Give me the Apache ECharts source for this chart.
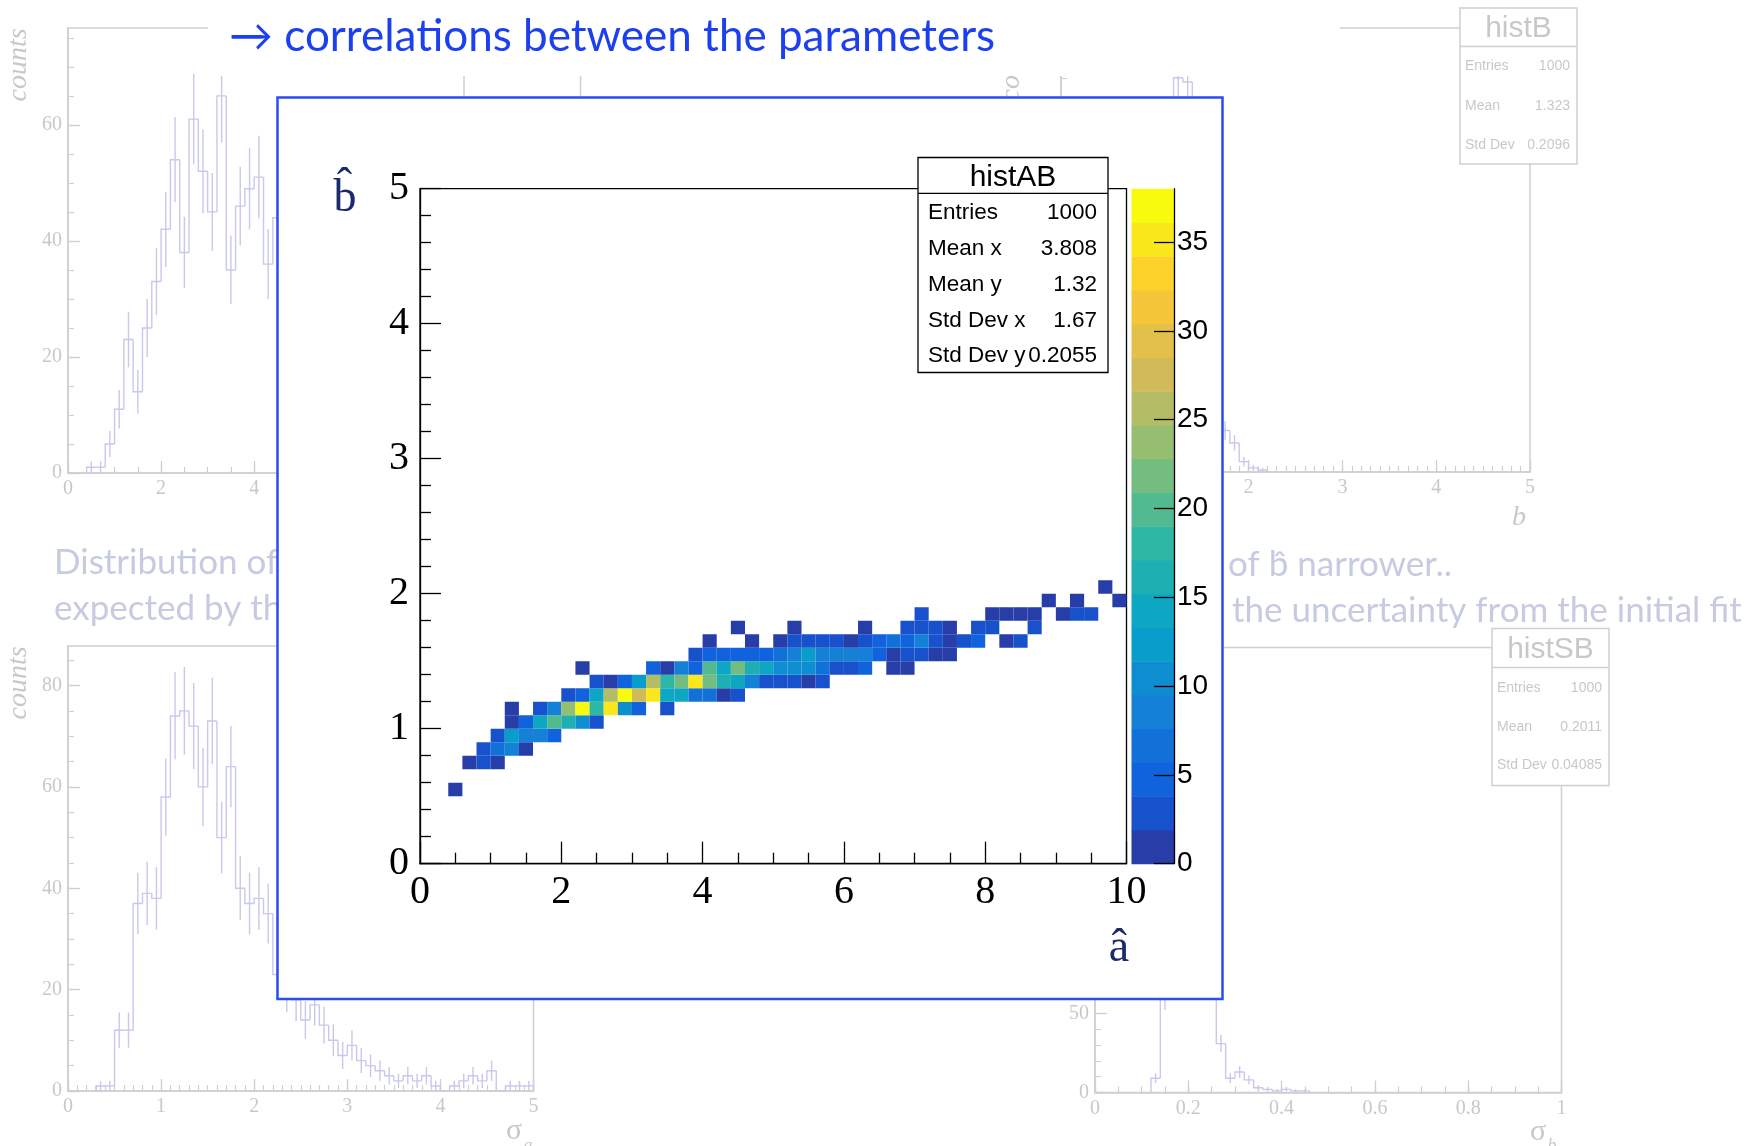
<!DOCTYPE html>
<html>
<head>
<meta charset="utf-8">
<title>histAB</title>
<script src="https://cdn.jsdelivr.net/npm/echarts@6.0.0/dist/echarts.min.js"></script>
<style>
html,body{margin:0;padding:0;background:#ffffff;}
#chart{width:1754px;height:1146px;}
</style>
</head>
<body>
<div id="chart"></div>
<script>
// ================= DATA =================
// main 2D histogram histAB : b-hat bin centres (rows) and, per row, a-hat bin centres + counts
const bHatRows = [0.55, 0.75, 0.85, 0.95, 1.05, 1.15, 1.25, 1.35, 1.45, 1.55, 1.65, 1.75, 1.85, 1.95, 2.05];
const aHatByRow = [
  [0.5],
  [0.7, 0.9, 1.1],
  [0.9, 1.1, 1.3, 1.5],
  [1.1, 1.3, 1.5, 1.7, 1.9],
  [1.3, 1.5, 1.7, 1.9, 2.1, 2.3, 2.5],
  [1.3, 1.7, 1.9, 2.1, 2.3, 2.5, 2.7, 2.9, 3.1, 3.5],
  [2.1, 2.3, 2.5, 2.7, 2.9, 3.1, 3.3, 3.5, 3.7, 3.9, 4.1, 4.3, 4.5],
  [2.5, 2.7, 2.9, 3.1, 3.3, 3.5, 3.7, 3.9, 4.1, 4.3, 4.5, 4.7, 4.9, 5.1, 5.3, 5.5, 5.7],
  [2.3, 3.3, 3.5, 3.7, 3.9, 4.1, 4.3, 4.5, 4.7, 4.9, 5.1, 5.3, 5.5, 5.7, 5.9, 6.1, 6.3, 6.7, 6.9],
  [3.9, 4.1, 4.3, 4.5, 4.7, 4.9, 5.1, 5.3, 5.5, 5.7, 5.9, 6.1, 6.3, 6.5, 6.7, 6.9, 7.1, 7.3, 7.5],
  [4.1, 4.7, 5.1, 5.3, 5.5, 5.7, 5.9, 6.1, 6.3, 6.5, 6.7, 6.9, 7.1, 7.3, 7.5, 7.7, 7.9, 8.3, 8.5],
  [4.5, 5.3, 6.3, 6.9, 7.1, 7.3, 7.5, 7.9, 8.1, 8.7],
  [7.1, 8.1, 8.3, 8.5, 8.7, 9.1, 9.3, 9.5],
  [8.9, 9.3, 9.9],
  [9.7]
];
const countsByRow = [
  [1],
  [1, 3, 1],
  [3, 6, 8, 1],
  [3, 12, 8, 8, 4],
  [1, 4, 14, 20, 16, 10, 3],
  [1, 3, 8, 24, 38, 18, 35, 10, 4, 3],
  [3, 4, 14, 26, 37, 28, 35, 14, 14, 7, 7, 1, 3],
  [3, 1, 4, 12, 26, 18, 22, 35, 22, 16, 14, 8, 3, 3, 3, 1, 3],
  [1, 4, 1, 8, 5, 20, 14, 22, 16, 14, 10, 10, 10, 6, 3, 3, 4, 1, 1],
  [3, 4, 4, 4, 4, 4, 6, 8, 12, 8, 8, 8, 8, 4, 1, 3, 3, 1, 1],
  [1, 1, 1, 3, 3, 3, 3, 1, 3, 4, 6, 4, 8, 3, 1, 3, 4, 1, 3],
  [1, 1, 1, 3, 3, 3, 1, 3, 3, 3],
  [3, 1, 1, 1, 1, 1, 3, 3],
  [1, 1, 1],
  [1]
];
const zTicks = [0, 5, 10, 15, 20, 25, 30, 35];
const statsAB = [['Entries', '1000'], ['Mean x', '3.808'], ['Mean y', '1.32'], ['Std Dev x', '1.67'], ['Std Dev y', '0.2055']];

// faded background histograms
const histA_a = [0.5, 0.7, 0.9, 1.1, 1.3, 1.5, 1.7, 1.9, 2.1, 2.3, 2.5, 2.7, 2.9, 3.1, 3.3, 3.5, 3.7, 3.9, 4.1, 4.3, 4.5];
const histA_n = [1, 1, 5, 11, 23, 14, 25, 33, 42, 54, 38, 61, 52, 45, 65, 35, 46, 49, 51, 36, 44];
const histSA_s = [0.35, 0.45, 0.55, 0.65, 0.75, 0.85, 0.95, 1.05, 1.15, 1.25, 1.35, 1.45, 1.55, 1.65, 1.75, 1.85, 1.95, 2.05, 2.15, 2.25,
  2.35, 2.45, 2.55, 2.65, 2.75, 2.85, 2.95, 3.05, 3.15, 3.25, 3.35, 3.45, 3.55, 3.65, 3.75, 3.85, 3.95, 4.05, 4.15, 4.25, 4.35, 4.45, 4.55, 4.65, 4.75, 4.85, 4.95];
const histSA_n = [1, 1, 12, 12, 37, 39, 38, 58, 74, 75, 72, 60, 73, 50, 64, 40, 37, 38, 35, 23,
  20, 18, 14, 17, 13, 10, 7, 9, 6, 5, 4, 3, 2, 3, 2, 3, 1, 0, 1, 2, 3, 2, 4, 0, 1, 1, 1];
const histB_b = [0.75, 0.85, 0.95, 1.05, 1.15, 1.25, 1.35, 1.45, 1.55, 1.65, 1.75, 1.85, 1.95, 2.05, 2.15];
const histB_n = [5, 15, 40, 90, 150, 190, 188, 140, 90, 45, 20, 14, 5, 2, 1];
const histSB_s = [0.13, 0.15, 0.17, 0.19, 0.21, 0.23, 0.25, 0.27, 0.29, 0.31, 0.33, 0.35, 0.37, 0.39, 0.41, 0.43, 0.45];
const histSB_n = [9, 60, 140, 251, 230, 150, 75, 31, 9, 13, 8, 3, 2, 1, 2, 1, 1];

// ================= STYLE =================
const SERIF = "'Liberation Serif', 'DejaVu Serif', serif";
const SANS = "'Liberation Sans', Arial, sans-serif";
const SLIDE = "Lato, 'Open Sans', 'DejaVu Sans', sans-serif";
const LAV = '#c8c8ec';
const FRAME = '#cfcfcf';
const GTXT = '#c8c8c8';
const STXT = '#c6cbe2';

// ROOT kBird palette
const birdStops = [0.0, 0.125, 0.25, 0.375, 0.5, 0.625, 0.75, 0.875, 1.0];
const birdR = [0.2082, 0.0592, 0.0780, 0.0232, 0.1802, 0.5301, 0.8186, 0.9956, 0.9764];
const birdG = [0.1664, 0.3599, 0.5041, 0.6419, 0.7178, 0.7492, 0.7328, 0.7862, 0.9832];
const birdB = [0.5293, 0.8684, 0.8385, 0.7914, 0.6425, 0.4662, 0.3499, 0.1968, 0.0539];
function bird(t) {
  let i = 0;
  while (i < birdStops.length - 2 && t > birdStops[i + 1]) i++;
  const f = (t - birdStops[i]) / (birdStops[i + 1] - birdStops[i]);
  const c = (arr) => Math.round(255 * (arr[i] + (arr[i + 1] - arr[i]) * f));
  return 'rgb(' + c(birdR) + ',' + c(birdG) + ',' + c(birdB) + ')';
}
const Z_MAX = 38, N_CONT = 20;
function bandColor(k) { return bird(Math.floor((k + 0.99) * 255 / N_CONT) / 254); }
function bandOf(n) { return Math.min(N_CONT - 1, Math.floor(0.01 + n * N_CONT / Z_MAX)); }

// flatten histAB
const cellData = [];
bHatRows.forEach((b, r) => aHatByRow[r].forEach((a, j) => cellData.push([a, b, countsByRow[r][j]])));
const BIN_A = 0.2, BIN_B = 0.1;

const bandData = [];
for (let k = 0; k < N_CONT; k++) bandData.push([k * Z_MAX / N_CONT, (k + 1) * Z_MAX / N_CONT, k]);

// ================= HELPERS =================
function steps(a, b, s) { const out = []; for (let v = a; v <= b + 1e-9; v += s) out.push(Math.round(v * 1000) / 1000); return out; }

function bgAxes(grid, min, max, majors, minors, pos) {
  const major = {
    gridIndex: grid, type: 'value', min: min, max: max, position: pos, z: 0,
    axisLine: { show: true, onZero: false, lineStyle: { color: FRAME, width: 1.5 } },
    axisTick: { show: true, inside: true, length: 12, customValues: majors, lineStyle: { color: FRAME, width: 1.3 } },
    axisLabel: { show: true, customValues: majors, color: GTXT, fontFamily: SERIF, fontSize: 20, margin: 6 },
    splitLine: { show: false }
  };
  const minor = {
    gridIndex: grid, type: 'value', min: min, max: max, position: pos, z: 0,
    axisLine: { show: false, onZero: false },
    axisTick: { show: true, inside: true, length: 6, customValues: minors, lineStyle: { color: FRAME, width: 1.2 } },
    axisLabel: { show: false },
    splitLine: { show: false }
  };
  return [major, minor];
}

function histSeries(xi, yi, centers, counts, binW) {
  return {
    type: 'custom', xAxisIndex: xi, yAxisIndex: yi, z: 1, silent: true, clip: true,
    data: centers.map((c, i) => [c, counts[i]]),
    renderItem: function (params, api) {
      const i = params.dataIndex;
      const xc = api.value(0), v = api.value(1);
      const xl = xc - binW / 2, xr = xc + binW / 2;
      const prev = (i > 0 && Math.abs(centers[i - 1] - (xc - binW)) < 1e-6) ? counts[i - 1] : 0;
      const st = { stroke: LAV, lineWidth: 1.4, fill: null };
      const children = [];
      const p0 = api.coord([xl, prev]), p1 = api.coord([xl, v]), p2 = api.coord([xr, v]);
      children.push({ type: 'polyline', shape: { points: [p0, p1, p2] }, style: st });
      if (i === centers.length - 1) {
        const p3 = api.coord([xr, 0]);
        children.push({ type: 'line', shape: { x1: p2[0], y1: p2[1], x2: p3[0], y2: p3[1] }, style: st });
      }
      if (v > 0) {
        const e = Math.sqrt(v);
        const t = api.coord([xc, v + e]), bo = api.coord([xc, Math.max(0, v - e)]);
        children.push({ type: 'line', shape: { x1: t[0], y1: t[1], x2: bo[0], y2: bo[1] }, style: st });
      }
      return { type: 'group', children: children };
    }
  };
}

function txt(x, y, text, font, fill, align, valign, z, extra) {
  const el = {
    type: 'text', x: x, y: y, z: z, silent: true,
    style: { text: text, font: font, fill: fill, textAlign: align, align: align, textVerticalAlign: valign, verticalAlign: valign }
  };
  if (extra) Object.assign(el, extra);
  return el;
}
function box(x, y, w, h, stroke, lw, z) {
  return { type: 'rect', z: z, silent: true, shape: { x: x, y: y, width: w, height: h }, style: { fill: '#ffffff', stroke: stroke, lineWidth: lw } };
}
function hline(x1, x2, y, stroke, lw, z) {
  return { type: 'line', z: z, silent: true, shape: { x1: x1, y1: y, x2: x2, y2: y }, style: { stroke: stroke, lineWidth: lw } };
}

// ================= AXES =================
const xAxes = [], yAxes = [];
// grid 0 histA
xAxes.push(...bgAxes(0, 0, 10, [0, 2, 4, 6, 8, 10], steps(0, 10, 0.5), 'bottom'));   // x 0,1
yAxes.push(...bgAxes(0, 0, 76.7, [0, 20, 40, 60], steps(0, 75, 5), 'left'));        // y 0,1
// grid 1 histB
xAxes.push(...bgAxes(1, 0, 5, [0, 1, 2, 3, 4, 5], steps(0, 5, 0.1), 'bottom'));      // x 2,3
yAxes.push(...bgAxes(1, 0, 214, [0, 50, 100, 150, 200], steps(0, 210, 10), 'left')); // y 2,3
// grid 2 histSA
xAxes.push(...bgAxes(2, 0, 5, [0, 1, 2, 3, 4, 5], steps(0, 5, 0.1), 'bottom'));      // x 4,5
yAxes.push(...bgAxes(2, 0, 87.8, [0, 20, 40, 60, 80], steps(0, 85, 5), 'left'));     // y 4,5
// grid 3 histSB
xAxes.push(...bgAxes(3, 0, 1, [0, 0.2, 0.4, 0.6, 0.8, 1], steps(0, 1, 0.05), 'bottom')); // x 6,7
yAxes.push(...bgAxes(3, 0, 282, [0, 50, 100, 150, 200, 250], steps(0, 280, 10), 'left')); // y 6,7
// grid 4 main histAB
xAxes.push({
  gridIndex: 4, type: 'value', min: 0, max: 10, interval: 2, position: 'bottom', z: 40,
  axisLine: { show: true, onZero: false, lineStyle: { color: '#000', width: 1.3 } },
  axisTick: { show: true, inside: true, length: 22, lineStyle: { color: '#000', width: 1.3 } },
  minorTick: { show: true, splitNumber: 4, length: 11, lineStyle: { color: '#000', width: 1.3 } },
  axisLabel: { color: '#000', fontFamily: SERIF, fontSize: 40, margin: 9 },
  splitLine: { show: false }, minorSplitLine: { show: false }
}); // x 8
yAxes.push({
  gridIndex: 4, type: 'value', min: 0, max: 5, interval: 1, position: 'left', z: 40,
  axisLine: { show: true, onZero: false, lineStyle: { color: '#000', width: 1.3 } },
  axisTick: { show: true, inside: true, length: 21, lineStyle: { color: '#000', width: 1.3 } },
  minorTick: { show: true, splitNumber: 5, length: 11, lineStyle: { color: '#000', width: 1.3 } },
  axisLabel: { color: '#000', fontFamily: SERIF, fontSize: 40, margin: 11 },
  splitLine: { show: false }, minorSplitLine: { show: false }
}); // y 8
// grid 5 colour bar
xAxes.push({ gridIndex: 5, type: 'value', min: 0, max: 1, show: false }); // x 9
yAxes.push({
  gridIndex: 5, type: 'value', min: 0, max: Z_MAX, position: 'right', z: 42,
  axisLine: { show: true, onZero: false, lineStyle: { color: '#000', width: 1.3 } },
  axisTick: { show: true, inside: true, length: 20, customValues: zTicks, lineStyle: { color: '#000', width: 1.3 } },
  axisLabel: { show: true, customValues: zTicks, color: '#000', fontFamily: SANS, fontSize: 28, margin: 3 },
  splitLine: { show: false }
}); // y 9

// ================= SERIES =================
const series = [
  histSeries(0, 0, histA_a, histA_n, 0.2),
  histSeries(2, 2, histB_b, histB_n, 0.1),
  histSeries(4, 4, histSA_s, histSA_n, 0.1),
  histSeries(6, 6, histSB_s, histSB_n, 0.02),
  {
    type: 'custom', name: 'histAB', xAxisIndex: 8, yAxisIndex: 8, z: 41, clip: true, silent: true,
    data: cellData,
    renderItem: function (params, api) {
      const a = api.value(0), b = api.value(1), n = api.value(2);
      const p0 = api.coord([a - BIN_A / 2, b + BIN_B / 2]);
      const p1 = api.coord([a + BIN_A / 2, b - BIN_B / 2]);
      return { type: 'rect', shape: { x: p0[0], y: p0[1], width: p1[0] - p0[0], height: p1[1] - p0[1] },
        style: { fill: bandColor(bandOf(n)), stroke: null } };
    }
  },
  {
    type: 'custom', name: 'palette', xAxisIndex: 9, yAxisIndex: 9, z: 41, clip: false, silent: true,
    data: bandData,
    renderItem: function (params, api) {
      const lo = api.value(0), hi = api.value(1), k = api.value(2);
      const p0 = api.coord([0, hi]), p1 = api.coord([1, lo]);
      return { type: 'rect', shape: { x: p0[0], y: p0[1], width: p1[0] - p0[0], height: p1[1] - p0[1] + 0.5 },
        style: { fill: bandColor(k), stroke: null } };
    }
  }
];

// ================= GRAPHICS =================
const els = [];
// background stats boxes
els.push(box(464, 8, 116.5, 156, FRAME, 1.5, 3), hline(464, 580.5, 46.4, FRAME, 1.5, 3),
  txt(522, 27, 'histA', '30px ' + SANS, GTXT, 'center', 'middle', 3));
els.push(box(1460, 8, 117, 156, FRAME, 1.5, 3), hline(1460, 1577, 46.4, FRAME, 1.5, 3),
  txt(1518.5, 29, 'histB', '30px ' + SANS, GTXT, 'center', 'middle', 3),
  txt(1465, 66, 'Entries', '14px ' + SANS, GTXT, 'left', 'middle', 3), txt(1570, 66, '1000', '14px ' + SANS, GTXT, 'right', 'middle', 3),
  txt(1465, 106, 'Mean', '14px ' + SANS, GTXT, 'left', 'middle', 3), txt(1570, 106, '1.323', '14px ' + SANS, GTXT, 'right', 'middle', 3),
  txt(1465, 145, 'Std Dev', '14px ' + SANS, GTXT, 'left', 'middle', 3), txt(1570, 145, '0.2096', '14px ' + SANS, GTXT, 'right', 'middle', 3));
els.push(box(1492, 628.4, 117, 157, FRAME, 1.5, 3), hline(1492, 1609, 667.6, FRAME, 1.5, 3),
  txt(1550.5, 650, 'histSB', '30px ' + SANS, GTXT, 'center', 'middle', 3),
  txt(1497, 688, 'Entries', '14px ' + SANS, GTXT, 'left', 'middle', 3), txt(1602, 688, '1000', '14px ' + SANS, GTXT, 'right', 'middle', 3),
  txt(1497, 727, 'Mean', '14px ' + SANS, GTXT, 'left', 'middle', 3), txt(1602, 727, '0.2011', '14px ' + SANS, GTXT, 'right', 'middle', 3),
  txt(1497, 765.5, 'Std Dev', '14px ' + SANS, GTXT, 'left', 'middle', 3), txt(1602, 765.5, '0.04085', '14px ' + SANS, GTXT, 'right', 'middle', 3));
// axis titles of faded histograms
els.push(txt(19, 65, 'counts', 'italic 28px ' + SERIF, GTXT, 'center', 'middle', 3, { rotation: Math.PI / 2 }));
els.push(txt(19, 683, 'counts', 'italic 28px ' + SERIF, GTXT, 'center', 'middle', 3, { rotation: Math.PI / 2 }));
els.push(txt(1012, 65, 'counts', 'italic 28px ' + SERIF, GTXT, 'center', 'middle', 3, { rotation: Math.PI / 2 }));
els.push(txt(1519, 518, 'b', 'italic 28px ' + SERIF, GTXT, 'center', 'middle', 3));
els.push(txt(514, 1131, 'σ', '30px ' + SERIF, GTXT, 'center', 'middle', 3), txt(528, 1146, 'a', 'italic 18px ' + SERIF, GTXT, 'center', 'middle', 3));
els.push(txt(1538, 1132, 'σ', '30px ' + SERIF, GTXT, 'center', 'middle', 3), txt(1552, 1146, 'b', 'italic 18px ' + SERIF, GTXT, 'center', 'middle', 3));
// faded slide text
els.push(txt(54, 563, 'Distribution of', '35px ' + SLIDE, STXT, 'left', 'middle', 3));
els.push(txt(54, 609, 'expected by the', '35px ' + SLIDE, STXT, 'left', 'middle', 3));
els.push(txt(1228, 565, 'of b\u0302 narrower..', '35px ' + SLIDE, STXT, 'left', 'middle', 3));
els.push(txt(1232, 611, 'the uncertainty from the initial fit', '35px ' + SLIDE, STXT, 'left', 'middle', 3));
// title box
els.push({ type: 'rect', z: 20, silent: true, shape: { x: 208, y: 0, width: 1132, height: 76 }, style: { fill: '#ffffff', stroke: null } });
els.push(txt(229, 37, '\u2192 correlations between the parameters', '44px ' + SLIDE, '#1c3ff0', 'left', 'middle', 21));
// panel
els.push({ type: 'rect', z: 30, silent: true, shape: { x: 277.5, y: 97.5, width: 945, height: 901.5 }, style: { fill: '#ffffff', stroke: '#2a4cf2', lineWidth: 2.5 } });
// main axis titles
els.push(txt(345, 199, 'b\u0302', '46px ' + SERIF, '#1b2a6b', 'center', 'middle', 45));
els.push(txt(1119, 949, '\u00e2', '46px ' + SERIF, '#1b2a6b', 'center', 'middle', 45));
// stats box histAB
els.push(box(918, 157.5, 190, 215, '#000', 1.3, 45), hline(918, 1108, 193.3, '#000', 1.3, 45),
  txt(1013, 177.5, 'histAB', '30px ' + SANS, '#000', 'center', 'middle', 46));
statsAB.forEach((row, i) => {
  const y = 213 + i * 35.8;
  els.push(txt(928, y, row[0], '22.5px ' + SANS, '#000', 'left', 'middle', 46));
  els.push(txt(1097, y, row[1], '22.5px ' + SANS, '#000', 'right', 'middle', 46));
});

// ================= OPTION =================
const option = {
  animation: false,
  backgroundColor: '#ffffff',
  grid: [
    { left: 68, top: 28, width: 465.5, height: 445, show: true, borderColor: FRAME, borderWidth: 1.5, backgroundColor: 'transparent', z: 0 },
    { left: 1061, top: 28, width: 469, height: 444, show: true, borderColor: FRAME, borderWidth: 1.5, backgroundColor: 'transparent', z: 0 },
    { left: 68, top: 646, width: 465.5, height: 445, show: true, borderColor: FRAME, borderWidth: 1.5, backgroundColor: 'transparent', z: 0 },
    { left: 1095, top: 647.5, width: 466.5, height: 445, show: true, borderColor: FRAME, borderWidth: 1.5, backgroundColor: 'transparent', z: 0 },
    { left: 420, top: 188.7, width: 706.5, height: 675, show: true, borderColor: '#000', borderWidth: 1.3, backgroundColor: 'transparent', z: 40 },
    { left: 1131.5, top: 188.7, width: 42.5, height: 675, show: false, z: 40 }
  ],
  xAxis: xAxes,
  yAxis: yAxes,
  series: series,
  graphic: { elements: els }
};
const chart = echarts.init(document.getElementById('chart'), null, { renderer: 'canvas', width: 1754, height: 1146 });
chart.setOption(option);
</script>
</body>
</html>
